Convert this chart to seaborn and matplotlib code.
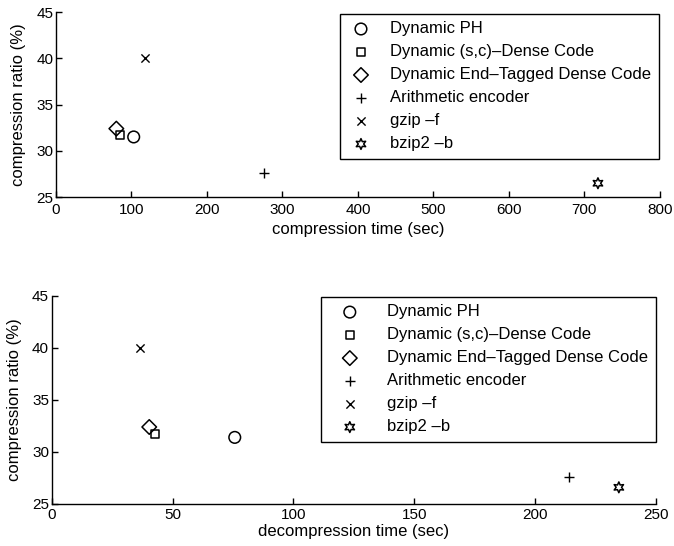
import numpy as np
import pandas as pd
import seaborn as sns
import matplotlib.pyplot as plt

# data
methods = ['Dynamic PH', 'Dynamic (s,c)–Dense Code', 'Dynamic End–Tagged Dense Code',
           'Arithmetic encoder', 'gzip –f', 'bzip2 –b']
comp_time = [103, 85, 80, 275, 118, 718]
comp_ratio = [31.5, 31.7, 32.4, 27.6, 40.0, 26.5]
decomp_time = [75.7, 42.6, 40.3, 213.9, 36.4, 234.7]
decomp_ratio = [31.4, 31.7, 32.4, 27.6, 40.0, 26.6]

# marker style per method (MATLAB-ish: o, s, d, +, x, hexagram)
markers = ['o', 's', 'D', '+', 'x', (6, 1, 0)]
msizes = [70, 30, 55, 60, 35, 60]

sns.set_theme(style='ticks')
plt.rcParams['font.family'] = ['Liberation Sans', 'DejaVu Sans']
plt.rcParams['xtick.direction'] = 'in'
plt.rcParams['ytick.direction'] = 'in'
plt.rcParams['text.color'] = 'black'
plt.rcParams['axes.labelcolor'] = 'black'

fig = plt.figure(figsize=(6.74, 5.46), dpi=100)
ax1 = fig.add_axes([0.083, 0.639, 0.896, 0.339])
ax2 = fig.add_axes([0.077, 0.077, 0.896, 0.381])


def draw(ax, times, ratios, xlim, xticks, xlabel, anchor, xpad, lpad, hlen):
    for name, t, r, m, sz in zip(methods, times, ratios, markers, msizes):
        if m in ('+', 'x'):
            sns.scatterplot(x=[t], y=[r], marker=m, s=sz, color='black',
                            linewidth=1.0, label=name, ax=ax)
        else:
            sns.scatterplot(x=[t], y=[r], marker=m, s=sz, facecolor='none',
                            edgecolor='black', linewidth=1.1, label=name, ax=ax)
    ax.set_xlim(*xlim)
    ax.set_ylim(25, 45)
    ax.set_xticks(xticks)
    ax.set_yticks([25, 30, 35, 40, 45])
    ax.set_xlabel(xlabel, fontsize=12, labelpad=lpad)
    ax.set_ylabel('compression ratio (%)', fontsize=12, labelpad=7)
    ax.tick_params(labelsize=11, length=4, width=1, colors='black')
    ax.tick_params(axis='x', pad=xpad)
    ax.tick_params(axis='y', pad=2)
    sns.despine(ax=ax)
    for s in ['left', 'bottom']:
        ax.spines[s].set_color('black')
        ax.spines[s].set_linewidth(1.0)
    leg = ax.legend(loc='upper right', bbox_to_anchor=anchor, borderaxespad=0,
                    fontsize=12, labelspacing=0.48, handletextpad=0.95,
                    handlelength=hlen, borderpad=0.45, fancybox=False,
                    framealpha=1, edgecolor='black')
    leg.get_frame().set_linewidth(1.0)


draw(ax1, comp_time, comp_ratio, (0, 800), np.arange(0, 801, 100),
     'compression time (sec)', (0.998, 0.99), 4, 4, 1.6)
draw(ax2, decomp_time, decomp_ratio, (0, 250), np.arange(0, 251, 50),
     'decompression time (sec)', (1.0, 0.995), 3, 1, 2.6)

fig.savefig('out.png', dpi=100)
